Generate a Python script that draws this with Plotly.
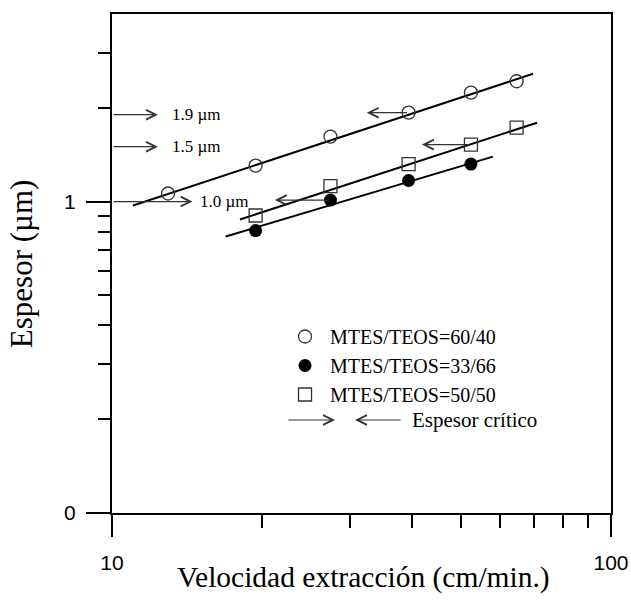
import math
import plotly.graph_objects as go

# ---------------- data ----------------
# extraction speed (cm/min) of the measured points
speed_6040 = [12.95, 19.4, 27.4, 39.3, 52.4, 64.7]
thick_6040 = [1.061, 1.304, 1.616, 1.929, 2.236, 2.433]

speed_3366 = [19.4, 27.4, 39.3, 52.4]
thick_3366 = [0.807, 1.011, 1.168, 1.319]

speed_5050 = [19.4, 27.4, 39.3, 52.4, 64.7]
thick_5050 = [0.902, 1.121, 1.319, 1.523, 1.727]

# fitted straight lines (log-log), end points
fit_6040_x = [11.02, 69.8]
fit_6040_y = [0.971, 2.572]
fit_3366_x = [16.9, 58.0]
fit_3366_y = [0.772, 1.394]
fit_5050_x = [18.05, 71.1]
fit_5050_y = [0.876, 1.791]

# critical thickness marks on the y axis (um)
crit_levels = [1.9, 1.5, 1.0]
crit_labels = ["1.9 \u00b5m", "1.5 \u00b5m", "1.0 \u00b5m"]
crit_tip_x = [12.36, 12.36, 14.5]
crit_label_x = [13.07, 13.07, 14.9]

# critical points (left arrows): tail at the point, tip at given speed
crit_pt_speed = [39.3, 52.4, 27.4]
crit_pt_thick = [1.929, 1.523, 1.011]
crit_pt_tip = [32.4, 41.8, 21.2]

x_major = [10, 100]
x_major_text = ["10", "100"]
x_minor = [20, 30, 40, 50, 60, 70, 80, 90]
y_major = [0.1, 1]
y_major_text = ["0", "1"]
y_minor = [0.2, 0.3, 0.4, 0.5, 0.6, 0.7, 0.8, 0.9, 2, 3]

legend_names = ["MTES/TEOS=60/40", "MTES/TEOS=33/66", "MTES/TEOS=50/50"]

SERIF = "Liberation Serif, Times New Roman, serif"
SANS = "Liberation Sans, Arial, sans-serif"

fig = go.Figure()

for fx, fy in [(fit_6040_x, fit_6040_y), (fit_3366_x, fit_3366_y), (fit_5050_x, fit_5050_y)]:
    fig.add_trace(go.Scatter(x=fx, y=fy, mode="lines", showlegend=False,
                             line=dict(color="black", width=2), hoverinfo="skip"))

fig.add_trace(go.Scatter(x=speed_6040, y=thick_6040, mode="markers", name=legend_names[0],
                         marker=dict(symbol="circle-open", size=13, color="#333",
                                     line=dict(width=1.3, color="#333"))))
fig.add_trace(go.Scatter(x=speed_3366, y=thick_3366, mode="markers", name=legend_names[1],
                         marker=dict(symbol="circle", size=13, color="black",
                                     line=dict(width=0, color="black"))))
fig.add_trace(go.Scatter(x=speed_5050, y=thick_5050, mode="markers", name=legend_names[2],
                         marker=dict(symbol="square-open", size=13, color="#333",
                                     line=dict(width=1.3, color="#333"))))

ann = []
arrow_col = "#333"
# right arrows from the y axis
for lvl, lab, tip, lx in zip(crit_levels, crit_labels, crit_tip_x, crit_label_x):
    ann.append(dict(x=math.log10(tip), y=math.log10(lvl), ax=math.log10(x_major[0]), ay=math.log10(lvl),
                    xref="x", yref="y", axref="x", ayref="y", text="", showarrow=True,
                    arrowhead=5, arrowsize=1.6, arrowwidth=1.2, arrowcolor=arrow_col, standoff=0))
    ann.append(dict(x=math.log10(lx), y=math.log10(lvl), xref="x", yref="y", text=lab,
                    showarrow=False, xanchor="left", yanchor="middle",
                    font=dict(family=SERIF, size=17, color="black")))
# left arrows at the critical points
for sp, th, tip in zip(crit_pt_speed, crit_pt_thick, crit_pt_tip):
    ann.append(dict(x=math.log10(tip), y=math.log10(th), ax=math.log10(sp), ay=math.log10(th),
                    xref="x", yref="y", axref="x", ayref="y", text="", showarrow=True,
                    arrowhead=5, arrowsize=1.6, arrowwidth=1.2, arrowcolor=arrow_col, standoff=0))

# legend row for the arrows
ann.append(dict(x=0.4469, y=0.1864, ax=0.3507, ay=0.1864, xref="x domain", yref="y domain",
                axref="x domain", ayref="y domain", text="", showarrow=True,
                arrowhead=5, arrowsize=1.6, arrowwidth=1.2, arrowcolor=arrow_col, standoff=0))
ann.append(dict(x=0.4870, y=0.1864, ax=0.5812, ay=0.1864, xref="x domain", yref="y domain",
                axref="x domain", ayref="y domain", text="", showarrow=True,
                arrowhead=5, arrowsize=1.6, arrowwidth=1.2, arrowcolor=arrow_col, standoff=0))
ann.append(dict(x=0.5972, y=0.1864, xref="x domain", yref="y domain", text="Espesor cr\u00edtico",
                showarrow=False, xanchor="left", yanchor="middle",
                font=dict(family=SERIF, size=21, color="black")))

# axis titles
ann.append(dict(x=0.504, y=-0.130, xref="paper", yref="paper", text="Velocidad extracci\u00f3n (cm/min.)",
                showarrow=False, xanchor="center", yanchor="middle",
                font=dict(family=SERIF, size=29.5, color="black")))
ann.append(dict(x=-0.180, y=0.499, xref="paper", yref="paper", text="Espesor (\u00b5m)", textangle=-90,
                showarrow=False, xanchor="center", yanchor="middle",
                font=dict(family=SERIF, size=31, color="black")))

fig.update_layout(
    width=631, height=603,
    margin=dict(l=112, r=20, t=14, b=90, pad=0, autoexpand=False),
    paper_bgcolor="white", plot_bgcolor="white",
    annotations=ann,
    showlegend=True,
    legend=dict(x=0.3367, y=0.3928, xanchor="left", yanchor="top",
                bgcolor="rgba(0,0,0,0)", borderwidth=0,
                font=dict(family=SERIF, size=20, color="black"),
                itemwidth=40, tracegroupgap=0),
)

fig.update_xaxes(
    type="log", range=[1, 2], automargin=False,
    showgrid=False, zeroline=False,
    showline=True, linecolor="black", linewidth=2, mirror=True,
    tickmode="array", tickvals=x_major, ticktext=x_major_text,
    ticks="outside", ticklen=22, tickwidth=2, tickcolor="black",
    ticklabelstandoff=8,
    tickfont=dict(family=SANS, size=21, color="black"),
    minor=dict(tickmode="array", tickvals=x_minor, ticks="outside", ticklen=13,
               tickwidth=2, tickcolor="black", showgrid=False),
)
fig.update_yaxes(
    type="log", range=[-1, math.log10(4)], automargin=False,
    showgrid=False, zeroline=False,
    showline=True, linecolor="black", linewidth=2, mirror=True,
    tickmode="array", tickvals=y_major, ticktext=y_major_text,
    ticks="outside", ticklen=24, tickwidth=2, tickcolor="black",
    ticklabelstandoff=6,
    tickfont=dict(family=SANS, size=21, color="black"),
    minor=dict(tickmode="array", tickvals=y_minor, ticks="outside", ticklen=12,
               tickwidth=2, tickcolor="black", showgrid=False),
)

fig.write_html("out.html")
